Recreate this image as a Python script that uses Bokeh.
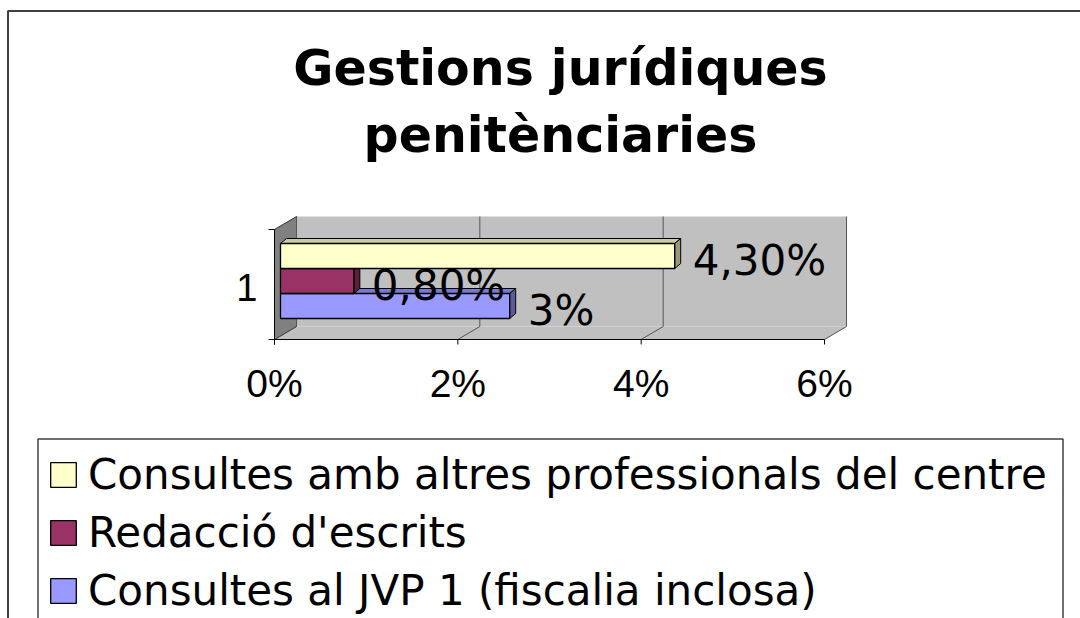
from bokeh.plotting import figure
from bokeh.models import Range1d, Label, Legend, LegendItem
from bokeh.core.properties import value
from bokeh.embed import file_html
from bokeh.resources import INLINE

# ---------------- data ----------------
title_lines = ["Gestions jurídiques", "penitènciaries"]
categories = ["1"]
series_names = [
    "Consultes amb altres professionals del centre",
    "Redacció d'escrits",
    "Consultes al JVP 1 (fiscalia inclosa)",
]
series_values = [4.3, 0.8, 2.5]          # percent
value_labels = ["4,30%", "0,80%", "3%"]
series_colors = ["#FFFFCC", "#993366", "#9999FF"]
x_ticks = [0, 2, 4, 6]
x_tick_labels = ["0%", "2%", "4%", "6%"]

# ---------------- layout / style ----------------
W, H = 1080, 618
PPX = 91.67            # pixels per percent
ORIGIN_PX = 274        # screen x of 0 %


def X(px):
    """screen pixel -> x data (percent)"""
    return (px - ORIGIN_PX) / PPX


def shade(hex_color, f):
    h = hex_color.lstrip("#")
    r, g, b = (int(h[i:i + 2], 16) for i in (0, 2, 4))
    return "#%02x%02x%02x" % (int(r * f), int(g * f), int(b * f))


SANS = value("Liberation Sans")
VERD = value("DejaVu Sans")
XMAX = x_ticks[-1]
FT, FB = 229, 339          # front top / bottom of the plot box
DX, DY = 22 / PPX, -13     # wall depth offset
BAR_X0 = 6 / PPX           # bar front face start
BDX, BDY = 6 / PPX, -5     # bar depth
YC, BH = 280.5, 25         # category centre, bar thickness

p = figure(
    width=W, height=H,
    x_range=Range1d(X(0), X(W)),
    y_range=Range1d(H, 0),
    x_axis_type=None, y_axis_type=None,
    toolbar_location=None, output_backend="svg",
    min_border=0, outline_line_color=None,
)
p.background_fill_color = "white"
p.border_fill_color = "white"

# outer chart border (left + top visible)
p.line([X(7.5), X(7.5), X(1100)], [640, 10.5, 10.5], line_color="#404040", line_width=2)

# walls
p.patch([DX, XMAX + DX, XMAX + DX, DX], [FT + DY, FT + DY, FB + DY, FB + DY],
        fill_color="#C0C0C0", line_color=None)
p.patch([0, DX, XMAX + DX, XMAX], [FB, FB + DY, FB + DY, FB],
        fill_color="#C0C0C0", line_color=None)
p.patch([0, DX, DX, 0], [FT, FT + DY, FB + DY, FB],
        fill_color="#808080", line_color="#333333", line_width=1)
for t in x_ticks:
    p.line([t + DX, t + DX, t], [FT + DY, FB + DY, FB], line_color="#555555", line_width=1)

# axes lines and ticks
p.line([0, XMAX], [FB, FB], line_color="black", line_width=1)
p.line([0, 0], [FT, FB + 5], line_color="black", line_width=1)
p.segment(x0=x_ticks, y0=[FB] * len(x_ticks), x1=x_ticks, y1=[FB + 5] * len(x_ticks),
          line_color="black", line_width=1)
p.segment(x0=[-6 / PPX] * 2, y0=[FT, FB], x1=[0, 0], y1=[FT, FB], line_color="black", line_width=1)

p.text(x=x_ticks, y=[383] * len(x_ticks), text=x_tick_labels, text_align="center",
       text_baseline="alphabetic", text_font=SANS, text_font_size="39px", text_color="black")
p.text(x=[-17 / PPX], y=[287], text=categories, text_align="right",
       text_baseline="alphabetic", text_font=SANS, text_font_size="38px", text_color="black")

# bars (drawn bottom to top so upper front faces cover lower top faces)
n = len(series_values)
tops = [YC - n * BH / 2 + i * BH for i in range(n)]
fronts = [None] * n
for i in reversed(range(n)):
    v = series_values[i]
    x0, x1 = BAR_X0, BAR_X0 + v
    t, b = tops[i], tops[i] + BH
    c = series_colors[i]
    p.patch([x0, x0 + BDX, x1 + BDX, x1], [t, t + BDY, t + BDY, t],
            fill_color=shade(c, 0.8), line_color="black", line_width=1)
    p.patch([x1, x1 + BDX, x1 + BDX, x1], [t, t + BDY, b + BDY, b],
            fill_color=shade(c, 0.6), line_color="black", line_width=1)
    fronts[i] = p.quad(left=[x0], right=[x1], top=[t], bottom=[b],
                       fill_color=c, line_color="black", line_width=1.3)

# value labels
p.text(x=[BAR_X0 + v + BDX + 12 / PPX for v in series_values],
       y=[tp + BH - 8 for tp in tops], text=value_labels,
       text_align="left", text_baseline="alphabetic", text_font=VERD,
       text_font_size="42px", text_color="black")

# title
for k, line in enumerate(title_lines):
    p.add_layout(Label(x=560, x_units="screen", y=67.5 + 67 * k, y_units="data", text=line,
                       text_align="center", text_baseline="alphabetic",
                       text_font="DejaVu Sans", text_font_style="bold",
                       text_font_size="49px", text_color="black"))

# legend box
p.line([X(37.5), X(37.5), X(1062.5), X(1062.5)], [640, 438.5, 438.5, 640],
       line_color="#404040", line_width=1.5)

legend = Legend(
    items=[LegendItem(label=series_names[i], renderers=[fronts[i]]) for i in range(n)],
    location=(47, 1), padding=0, spacing=4, margin=0,
    label_height=54, glyph_height=31, glyph_width=32, label_standoff=9,
    label_text_font="DejaVu Sans", label_text_font_size="42px", label_text_color="black",
    border_line_color=None, background_fill_alpha=0,
)
p.add_layout(legend)

open("out.html", "w").write(file_html(p, INLINE))
